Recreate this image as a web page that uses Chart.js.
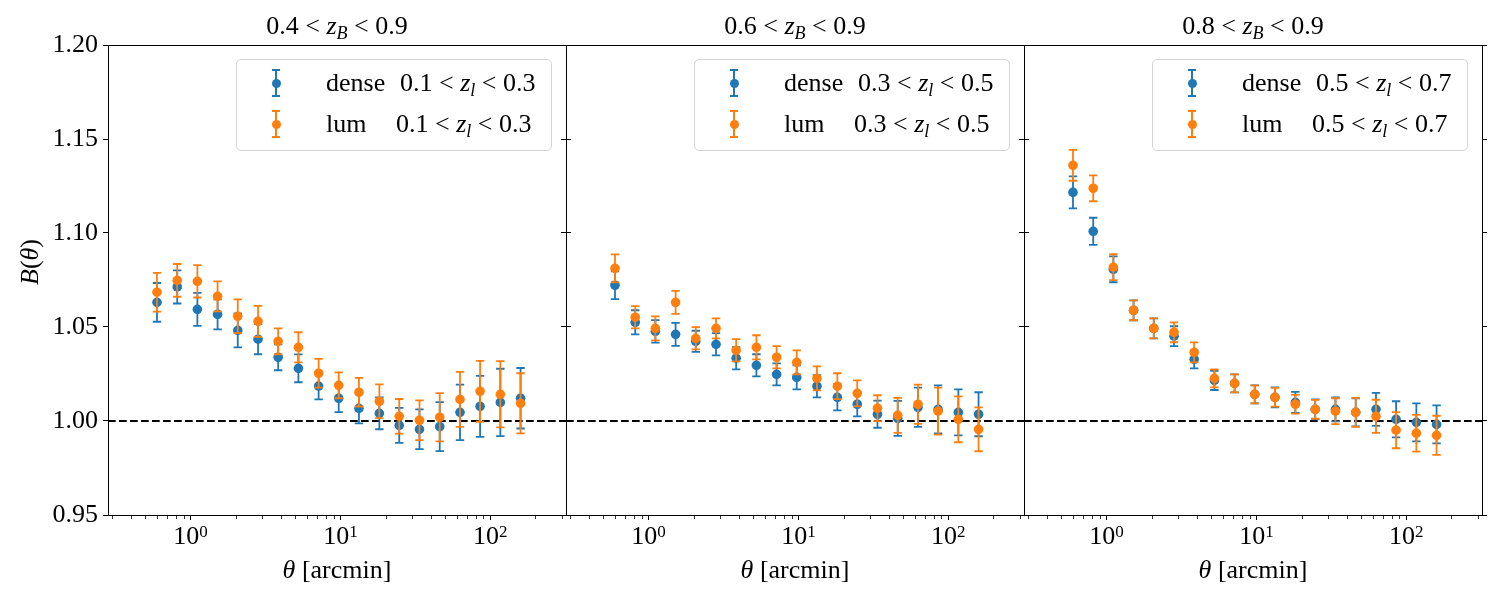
<!DOCTYPE html>
<html>
<head>
<meta charset="utf-8">
<script src="https://cdn.jsdelivr.net/npm/chart.js@4.4.1/dist/chart.umd.min.js"></script>
<style>
  html, body { margin:0; padding:0; background:#fff; }
  #wrap { position:relative; width:1500px; height:600px; overflow:hidden; font-family:"Liberation Serif","DejaVu Serif",serif; color:#000; }
  #wrap canvas { position:absolute; left:0; top:0; }
  .txt { position:absolute; font-size:26px; line-height:26px; white-space:pre; }
  .ctr { transform:translateX(-50%); }
  sub { font-size:18px; vertical-align:-5px; line-height:0; }
  sup { font-size:17px; vertical-align:7px; line-height:0; }
  .legend { position:absolute; width:314px; height:90px; border:1px solid #d4d4d4; border-radius:5px; background:rgba(255,255,255,0.85); z-index:5; }
  .mk { position:absolute; width:10px; height:30px; }
  .mk .v { position:absolute; left:4px; top:0; width:2px; height:28px; }
  .mk .c1 { position:absolute; left:1px; top:0; width:8px; height:2px; }
  .mk .c2 { position:absolute; left:1px; top:26px; width:8px; height:2px; }
  .mk .d { position:absolute; left:0.5px; top:9.5px; width:9px; height:9px; border-radius:50%; }
</style>
</head>
<body>
<div id="wrap"></div>
<script>
// ---------- data ----------
const THETA = [0.598, 0.816, 1.112, 1.517, 2.068, 2.823, 3.846, 5.248, 7.16, 9.75, 13.3, 18.2, 24.7, 33.7, 46.0, 62.8, 85.5, 116.7, 159.2];

const P1_DENSE     = [1.0631, 1.0713, 1.0594, 1.0567, 1.0482, 1.0435, 1.0339, 1.0280, 1.0186, 1.0121, 1.0067, 1.0041, 0.9977, 0.9956, 0.9970, 1.0046, 1.0078, 1.0099, 1.0121];
const P1_DENSE_ERR = [0.0103, 0.0088, 0.0088, 0.0080, 0.0090, 0.0080, 0.0069, 0.0074, 0.0071, 0.0074, 0.0080, 0.0085, 0.0093, 0.0106, 0.0130, 0.0148, 0.0162, 0.0179, 0.0161];
const P1_LUM       = [1.0685, 1.0748, 1.0743, 1.0663, 1.0557, 1.0530, 1.0424, 1.0392, 1.0254, 1.0190, 1.0153, 1.0105, 1.0025, 1.0004, 1.0020, 1.0115, 1.0158, 1.0142, 1.0094];
const P1_LUM_ERR   = [0.0103, 0.0087, 0.0086, 0.0080, 0.0090, 0.0082, 0.0069, 0.0080, 0.0076, 0.0069, 0.0076, 0.0090, 0.0092, 0.0106, 0.0128, 0.0146, 0.0162, 0.0176, 0.0160];

const P2_DENSE     = [1.0722, 1.0525, 1.0477, 1.0461, 1.0424, 1.0408, 1.0334, 1.0296, 1.0248, 1.0232, 1.0185, 1.0126, 1.0089, 1.0036, 1.0014, 1.0073, 1.0062, 1.0046, 1.0036];
const P2_DENSE_ERR = [0.0074, 0.0064, 0.0060, 0.0061, 0.0056, 0.0059, 0.0059, 0.0059, 0.0059, 0.0064, 0.0059, 0.0069, 0.0064, 0.0072, 0.0093, 0.0104, 0.0128, 0.0122, 0.0117];
const P2_LUM       = [1.0812, 1.0552, 1.0493, 1.0631, 1.0440, 1.0493, 1.0376, 1.0392, 1.0339, 1.0312, 1.0227, 1.0185, 1.0147, 1.0068, 1.0030, 1.0089, 1.0052, 1.0009, 0.9956];
const P2_LUM_ERR   = [0.0074, 0.0059, 0.0064, 0.0061, 0.0059, 0.0053, 0.0059, 0.0064, 0.0059, 0.0064, 0.0064, 0.0069, 0.0069, 0.0069, 0.0093, 0.0104, 0.0125, 0.0122, 0.0117];

const P3_DENSE     = [1.1216, 1.1009, 1.0807, 1.0589, 1.0493, 1.0451, 1.0328, 1.0216, 1.0200, 1.0142, 1.0126, 1.0099, 1.0062, 1.0062, 1.0046, 1.0062, 1.0009, 0.9993, 0.9982];
const P3_DENSE_ERR = [0.0085, 0.0072, 0.0069, 0.0053, 0.0053, 0.0053, 0.0048, 0.0051, 0.0048, 0.0048, 0.0053, 0.0056, 0.0053, 0.0064, 0.0075, 0.0088, 0.0096, 0.0101, 0.0101];
const P3_LUM       = [1.1360, 1.1238, 1.0818, 1.0589, 1.0493, 1.0472, 1.0365, 1.0227, 1.0200, 1.0142, 1.0126, 1.0089, 1.0062, 1.0052, 1.0046, 1.0025, 0.9951, 0.9935, 0.9924];
const P3_LUM_ERR   = [0.0082, 0.0069, 0.0069, 0.0053, 0.0053, 0.0053, 0.0053, 0.0048, 0.0048, 0.0048, 0.0050, 0.0050, 0.0050, 0.0069, 0.0077, 0.0088, 0.0096, 0.0098, 0.0104];

const SOURCE_BINS = [["0.4", "0.9"], ["0.6", "0.9"], ["0.8", "0.9"]];
const LENS_BINS   = [["0.1", "0.3"], ["0.3", "0.5"], ["0.5", "0.7"]];
const SERIES_NAMES = ["dense", "lum"];
const Y_TICKS = [0.95, 1.00, 1.05, 1.10, 1.15, 1.20];
const X_MAJOR_TICKS = [1, 10, 100];
const X_MAJOR_EXPONENTS = ["0", "1", "2"];
const X_MINOR_TICKS = [0.3,0.4,0.5,0.6,0.7,0.8,0.9, 2,3,4,5,6,7,8,9, 20,30,40,50,60,70,80,90, 200,300];
const REFERENCE_LEVEL = 1.0;
const X_RANGE = [0.2818, 319.9];
const Y_RANGE = [0.95, 1.20];

// ---------- styles / layout ----------
const COLORS = ["#1f77b4", "#ff7f0e"];
const FONT = "Liberation Serif";
const AREA_TOP = 45, AREA_BOTTOM = 515;
const PANEL_EDGES = [108, 566, 1024, 1482];
const YW = 60, Y2W = 8, XH = 45;

const PANELS = [
  { dense: P1_DENSE, denseErr: P1_DENSE_ERR, lum: P1_LUM, lumErr: P1_LUM_ERR },
  { dense: P2_DENSE, denseErr: P2_DENSE_ERR, lum: P2_LUM, lumErr: P2_LUM_ERR },
  { dense: P3_DENSE, denseErr: P3_DENSE_ERR, lum: P3_LUM, lumErr: P3_LUM_ERR },
];

const errorBarPlugin = {
  id: 'errorBars',
  beforeDatasetDraw(chart, args) {
    const ds = chart.data.datasets[args.index];
    if (!ds.errors) return;
    const x = chart.scales.x, y = chart.scales.y;
    const ctx = chart.ctx;
    ctx.save();
    ctx.strokeStyle = ds.backgroundColor;
    ctx.lineWidth = 1.8;
    ctx.lineCap = 'butt';
    ds.data.forEach((p, i) => {
      const px = x.getPixelForValue(p.x);
      const y1 = y.getPixelForValue(p.y + ds.errors[i]);
      const y2 = y.getPixelForValue(p.y - ds.errors[i]);
      ctx.beginPath();
      ctx.moveTo(px, y1); ctx.lineTo(px, y2);
      ctx.moveTo(px - 4.2, y1); ctx.lineTo(px + 4.2, y1);
      ctx.moveTo(px - 4.2, y2); ctx.lineTo(px + 4.2, y2);
      ctx.stroke();
    });
    ctx.restore();
  }
};

const framePlugin = {
  id: 'frame',
  afterDraw(chart) {
    const ctx = chart.ctx, a = chart.chartArea, x = chart.scales.x;
    ctx.save();
    ctx.strokeStyle = '#000';
    ctx.lineWidth = 1;
    const l = Math.round(a.left) + 0.5, r = Math.round(a.right) + 0.5;
    const t = Math.round(a.top) + 0.5, b = Math.round(a.bottom) + 0.5;
    ctx.strokeRect(l, t, r - l, b - t);
    // minor ticks of the log axis
    ctx.lineWidth = 0.8;
    ctx.beginPath();
    X_MINOR_TICKS.forEach(v => {
      const px = Math.round(x.getPixelForValue(v)) + 0.5;
      if (px < a.left || px > a.right) return;
      ctx.moveTo(px, b); ctx.lineTo(px, b + 3.5);
    });
    ctx.stroke();
    ctx.restore();
  }
};

const wrap = document.getElementById('wrap');

PANELS.forEach((P, k) => {
  const L = PANEL_EDGES[k], R = PANEL_EDGES[k + 1];
  const cv = document.createElement('canvas');
  cv.width = 1500; cv.height = 600;
  cv.style.width = '1500px'; cv.style.height = '600px';
  wrap.appendChild(cv);

  const mkData = (vals) => THETA.map((t, i) => ({ x: t, y: vals[i] }));

  const chart = new Chart(cv, {
    type: 'scatter',
    data: {
      datasets: [
        { label: SERIES_NAMES[0], data: mkData(P.dense), errors: P.denseErr,
          backgroundColor: COLORS[0], borderColor: COLORS[0], pointRadius: 4.8, borderWidth: 0, order: 2 },
        { label: SERIES_NAMES[1], data: mkData(P.lum), errors: P.lumErr,
          backgroundColor: COLORS[1], borderColor: COLORS[1], pointRadius: 4.8, borderWidth: 0, order: 1 },
        { type: 'line', label: 'ref', data: [{ x: X_RANGE[0], y: REFERENCE_LEVEL }, { x: X_RANGE[1], y: REFERENCE_LEVEL }],
          borderColor: '#000', borderWidth: 2, borderDash: [7.7, 3.3], pointRadius: 0, fill: false, order: 3 }
      ]
    },
    options: {
      responsive: false, animation: false, devicePixelRatio: 1,
      events: [],
      layout: { padding: { left: L - YW, right: 1500 - R - Y2W, top: AREA_TOP, bottom: 600 - AREA_BOTTOM - XH } },
      plugins: { legend: { display: false }, tooltip: { enabled: false }, title: { display: false } },
      scales: {
        x: {
          type: 'logarithmic', position: 'bottom', min: X_RANGE[0], max: X_RANGE[1],
          afterBuildTicks: s => { s.ticks = X_MAJOR_TICKS.map(v => ({ value: v, major: true })); },
          afterFit: s => { s.height = XH; },
          ticks: { display: false },
          grid: { drawOnChartArea: false, tickLength: 5, color: '#000', tickWidth: 1 },
          border: { display: false }
        },
        y: {
          type: 'linear', position: 'left', min: Y_RANGE[0], max: Y_RANGE[1],
          afterBuildTicks: s => { s.ticks = Y_TICKS.map(v => ({ value: v })); },
          afterFit: s => { s.width = YW; },
          ticks: { display: k === 0, padding: 5, color: '#000', font: { family: FONT, size: 26 },
            callback: v => Number(v).toFixed(2) },
          grid: { drawOnChartArea: false, tickLength: 5, color: '#000', tickWidth: 1 },
          border: { display: false }
        },
        y2: {
          type: 'linear', position: 'right', min: Y_RANGE[0], max: Y_RANGE[1],
          afterBuildTicks: s => { s.ticks = Y_TICKS.map(v => ({ value: v })); },
          afterFit: s => { s.width = Y2W; },
          ticks: { display: false },
          grid: { drawOnChartArea: false, tickLength: 5, color: '#000', tickWidth: 1 },
          border: { display: false }
        }
      }
    },
    plugins: [errorBarPlugin, framePlugin]
  });

  // ----- x tick labels positioned from the chart's own log scale -----
  X_MAJOR_TICKS.forEach((v, i) => {
    const px = chart.scales.x.getPixelForValue(v);
    const tl = document.createElement('div');
    tl.className = 'txt ctr';
    tl.style.left = px + 'px'; tl.style.top = '523px';
    tl.innerHTML = '10<sup>' + X_MAJOR_EXPONENTS[i] + '</sup>';
    wrap.appendChild(tl);
  });

  // ----- text overlays -----
  const cx = (L + R) / 2;
  const title = document.createElement('div');
  title.className = 'txt ctr';
  title.style.left = cx + 'px'; title.style.top = '13px';
  title.innerHTML = SOURCE_BINS[k][0] + ' &lt; <i>z</i><sub><i>B</i></sub> &lt; ' + SOURCE_BINS[k][1];
  wrap.appendChild(title);

  const xl = document.createElement('div');
  xl.className = 'txt ctr';
  xl.style.left = cx + 'px'; xl.style.top = '557px';
  xl.innerHTML = '<i>θ</i> [arcmin]';
  wrap.appendChild(xl);

  const lg = document.createElement('div');
  lg.className = 'legend';
  lg.style.left = (R - 14 - 316) + 'px'; lg.style.top = '59px';
  const offs = [163, 159];
  SERIES_NAMES.forEach((nm, j) => {
    const rowTop = j === 0 ? 9 : 50;
    const mk = document.createElement('div');
    mk.className = 'mk';
    mk.style.left = '34px'; mk.style.top = rowTop + 'px';
    const c = COLORS[j];
    mk.innerHTML = `<div class="v" style="background:${c}"></div><div class="c1" style="background:${c}"></div><div class="c2" style="background:${c}"></div><div class="d" style="background:${c}"></div>`;
    lg.appendChild(mk);
    const t1 = document.createElement('div');
    t1.className = 'txt';
    t1.style.left = '89px'; t1.style.top = (rowTop + 0.5) + 'px';
    t1.textContent = nm;
    lg.appendChild(t1);
    const t2 = document.createElement('div');
    t2.className = 'txt';
    t2.style.left = offs[j] + 'px'; t2.style.top = (rowTop + 0.5) + 'px';
    t2.innerHTML = LENS_BINS[k][0] + ' &lt; <i>z</i><sub><i>l</i></sub> &lt; ' + LENS_BINS[k][1];
    lg.appendChild(t2);
  });
  wrap.appendChild(lg);
});

const yl = document.createElement('div');
yl.className = 'txt';
yl.style.left = '30px'; yl.style.top = '262px';
yl.style.transform = 'translate(-50%,-50%) rotate(-90deg)';
yl.innerHTML = '<i>B</i>(<i>θ</i>)';
wrap.appendChild(yl);
</script>
</body>
</html>
